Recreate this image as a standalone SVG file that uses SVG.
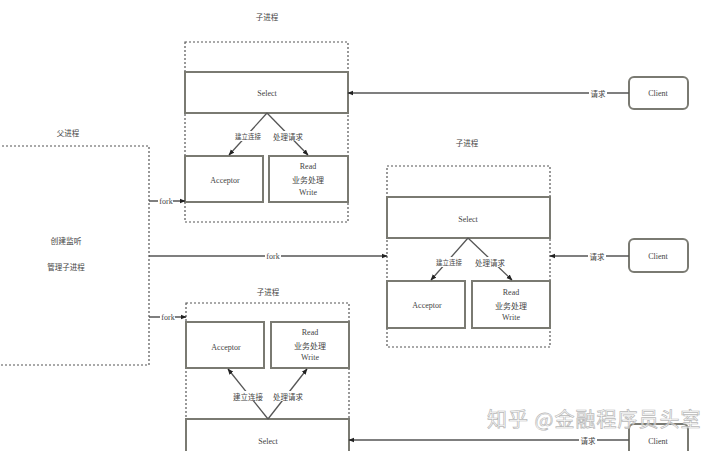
<svg xmlns="http://www.w3.org/2000/svg" width="720" height="451" viewBox="0 0 720 451">
<defs>
<style>
.t{font-family:"Liberation Serif","Noto Sans CJK SC",serif;font-size:8px;fill:#444;text-anchor:middle;dominant-baseline:central}
.c{font-family:"Noto Sans CJK SC",sans-serif;fill:#444;text-anchor:middle;dominant-baseline:central}
.box{fill:#fff;stroke:#7a7a72;stroke-width:2}
.dash{fill:none;stroke:#555;stroke-width:1.2;stroke-dasharray:2 2}
.ln{fill:none;stroke:#555;stroke-width:1.3}
.bg{fill:#fff}
.wm{font-family:"Noto Sans CJK SC",sans-serif;font-size:20px;letter-spacing:1px;fill:#fff;fill-opacity:0.6;stroke:#b8b8b8;stroke-width:0.7}
</style>
<marker id="ah" viewBox="0 0 10 10" refX="9" refY="5" markerWidth="6" markerHeight="6" orient="auto" markerUnits="userSpaceOnUse">
<path d="M0,1 L10,5 L0,9 Z" fill="#222"/>
</marker>
</defs>
<rect width="720" height="451" fill="#fff"/>

<g id="parent">
<rect class="dash" x="-10" y="146" width="159" height="219"/>
<text class="c" x="68" y="132" font-size="7.5">父进程</text>
<text class="c" x="66" y="240" font-size="7.8">创建监听</text>
<text class="c" x="66" y="266" font-size="7.5">管理子进程</text>
</g>

<g id="child1">
<text class="c" x="267" y="16" font-size="7.5">子进程</text>
<rect class="dash" x="185" y="42" width="163" height="180"/>
<g id="select1"><rect class="box" x="185" y="72" width="163" height="41"/><text class="t" x="267" y="93">Select</text></g>
<g id="acceptor1"><rect class="box" x="185" y="156" width="78" height="46"/><text class="t" x="225" y="180">Acceptor</text></g>
<g id="read1"><rect class="box" x="269" y="156" width="79" height="46"/>
<text class="t" x="308" y="166">Read</text><text class="c" x="308" y="179" font-size="8">业务处理</text><text class="t" x="308" y="192">Write</text></g>
</g>

<g id="child2">
<text class="c" x="467" y="142" font-size="7.5">子进程</text>
<rect class="dash" x="387" y="166" width="163" height="181"/>
<g id="select2"><rect class="box" x="387" y="197" width="163" height="41"/><text class="t" x="468" y="219">Select</text></g>
<g id="acceptor2"><rect class="box" x="387" y="281" width="78" height="47"/><text class="t" x="427" y="305">Acceptor</text></g>
<g id="read2"><rect class="box" x="472" y="281" width="78" height="47"/>
<text class="t" x="511" y="292">Read</text><text class="c" x="511" y="305" font-size="8">业务处理</text><text class="t" x="511" y="317">Write</text></g>
</g>

<g id="child3">
<text class="c" x="268" y="291" font-size="7.5">子进程</text>
<rect class="dash" x="186" y="303" width="163" height="160"/>
<g id="acceptor3"><rect class="box" x="186" y="322" width="78" height="46"/><text class="t" x="226" y="347">Acceptor</text></g>
<g id="read3"><rect class="box" x="271" y="322" width="78" height="46"/>
<text class="t" x="310" y="332">Read</text><text class="c" x="310" y="345" font-size="8">业务处理</text><text class="t" x="310" y="357">Write</text></g>
<g id="select3"><rect class="box" x="186" y="419" width="163" height="45"/><text class="t" x="268" y="441">Select</text></g>
</g>

<g id="client1"><rect class="box" x="629" y="77" width="59" height="32" rx="5" stroke-width="1.6"/><text class="t" x="658" y="93">Client</text></g>
<g id="client2"><rect class="box" x="629" y="239" width="59" height="33" rx="5" stroke-width="1.6"/><text class="t" x="658" y="256">Client</text></g>
<g id="client3"><rect class="box" x="629" y="424" width="59" height="40" rx="5" stroke-width="1.6"/><text class="t" x="658" y="441">Client</text></g>

<g id="connectors">
<line class="ln" x1="149" y1="201" x2="185" y2="201" marker-end="url(#ah)"/>
<rect class="bg" x="158" y="196" width="15" height="10"/><text class="t" x="166" y="201" font-size="7.5">fork</text>
<line class="ln" x1="149" y1="256" x2="387" y2="256" marker-end="url(#ah)"/>
<rect class="bg" x="265" y="251" width="16" height="10"/><text class="t" x="273" y="256" font-size="7.5">fork</text>
<line class="ln" x1="149" y1="317" x2="186" y2="317" marker-end="url(#ah)"/>
<rect class="bg" x="160" y="312" width="15" height="10"/><text class="t" x="168" y="317" font-size="7.5">fork</text>

<line class="ln" x1="629" y1="93" x2="348" y2="93" marker-end="url(#ah)"/>
<rect class="bg" x="589" y="88" width="18" height="10"/><text class="c" x="598" y="93" font-size="7.5">请求</text>
<line class="ln" x1="629" y1="256" x2="550" y2="256" marker-end="url(#ah)"/>
<rect class="bg" x="588" y="251" width="18" height="10"/><text class="c" x="597" y="256" font-size="7.5">请求</text>
<line class="ln" x1="629" y1="440" x2="349" y2="440" marker-end="url(#ah)"/>
<rect class="bg" x="579" y="435" width="18" height="10"/><text class="c" x="588" y="440" font-size="7.5">请求</text>

<line class="ln" x1="267" y1="113" x2="229" y2="155" marker-end="url(#ah)"/>
<line class="ln" x1="267" y1="113" x2="308" y2="155" marker-end="url(#ah)"/>
<rect class="bg" x="234" y="131" width="28" height="10"/><text class="c" x="248" y="136" font-size="6.5">建立连接</text>
<rect class="bg" x="273" y="131" width="31" height="10"/><text class="c" x="288" y="136" font-size="7.5">处理请求</text>

<line class="ln" x1="468" y1="238" x2="431" y2="280" marker-end="url(#ah)"/>
<line class="ln" x1="468" y1="238" x2="512" y2="280" marker-end="url(#ah)"/>
<rect class="bg" x="435" y="257" width="28" height="10"/><text class="c" x="449" y="262" font-size="6.5">建立连接</text>
<rect class="bg" x="475" y="257" width="31" height="10"/><text class="c" x="490" y="262" font-size="7.5">处理请求</text>

<line class="ln" x1="268" y1="419" x2="228" y2="369" marker-end="url(#ah)"/>
<line class="ln" x1="268" y1="419" x2="307" y2="369" marker-end="url(#ah)"/>
<rect class="bg" x="233" y="391" width="31" height="10"/><text class="c" x="248" y="396" font-size="7.5">建立连接</text>
<rect class="bg" x="273" y="391" width="31" height="10"/><text class="c" x="288" y="396" font-size="7.5">处理请求</text>
</g>

<text class="wm" x="487" y="427">知乎 @金融程序员头室</text>
</svg>
